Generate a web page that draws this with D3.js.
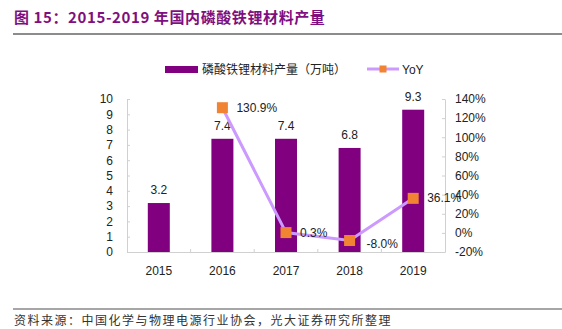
<!DOCTYPE html>
<meta charset="utf-8">
<head>
  <title>2015-2019 年国内磷酸铁锂材料产量</title>
</head>
<body>
<style>
  html, body {
    margin: 0;
    padding: 0;
    background: #fff;
  }
  svg text {
    font-family: "Liberation Sans", Arial, sans-serif;
  }
  .cjk {
    font-family: "Noto Sans CJK SC", sans-serif;
  }
  .axis path, .axis line {
    stroke: #d0d0d0;
  }
</style>
<div id="chart"></div>
<script src="https://cdn.jsdelivr.net/npm/d3@7/dist/d3.min.js"></script>
<script>

var years = ["2015", "2016", "2017", "2018", "2019"],
    output = [3.2, 7.4, 7.4, 6.8, 9.3],
    yoy = [null, 130.9, 0.3, -8.0, 36.1],
    leftTicks = [0, 1, 2, 3, 4, 5, 6, 7, 8, 9, 10],
    rightTicks = [-20, 0, 20, 40, 60, 80, 100, 120, 140];

(function() {

var width = 562, height = 329;

var svg = d3.select("#chart").append("svg")
    .attr("width", width)
    .attr("height", height);

// header
svg.append("text")
    .attr("class", "cjk")
    .attr("x", 14)
    .attr("y", 23)
    .attr("fill", "#7f0f7e")
    .attr("font-size", 15)
    .attr("font-weight", "bold")
    .attr("letter-spacing", 0.6)
    .text("图 15：2015-2019 年国内磷酸铁锂材料产量");

svg.append("line")
    .attr("x1", 13).attr("x2", width)
    .attr("y1", 34).attr("y2", 34)
    .attr("stroke", "#666").attr("stroke-width", 1.5);

// footer
svg.append("line")
    .attr("x1", 13).attr("x2", width)
    .attr("y1", 309).attr("y2", 309)
    .attr("stroke", "#888").attr("stroke-width", 1.5);

svg.append("text")
    .attr("class", "cjk")
    .attr("x", 14)
    .attr("y", 325)
    .attr("fill", "#333")
    .attr("font-size", 12)
    .attr("letter-spacing", 1.5)
    .text("资料来源：中国化学与物理电源行业协会，光大证券研究所整理");

var plotLeft = 127, plotRight = 445, plotTop = 99, plotBottom = 252;

var x = d3.scaleBand().domain(years).range([plotLeft, plotRight]);
var y = d3.scaleLinear().domain([0, 10]).range([plotBottom, plotTop]);
var y2 = d3.scaleLinear().domain([-20, 140]).range([plotBottom, plotTop]);

// axes
svg.append("g")
    .attr("class", "axis")
    .attr("transform", "translate(" + plotLeft + ",0)")
    .call(d3.axisLeft(y).tickValues(leftTicks).tickSize(-3).tickSizeOuter(0).tickPadding(14));

svg.append("g")
    .attr("class", "axis")
    .attr("transform", "translate(" + plotRight + ",0)")
    .call(d3.axisRight(y2).tickValues(rightTicks).tickSize(-3).tickSizeOuter(0)
      .tickPadding(10).tickFormat(function(d) { return d + "%"; }));

var gb = svg.append("g")
    .attr("class", "axis")
    .attr("transform", "translate(0," + plotBottom + ")")
    .call(d3.axisBottom(x).tickSize(0).tickPadding(14));

// small category separators pointing up
gb.selectAll(".sep")
    .data(years.slice(1))
  .enter().append("line")
    .attr("class", "sep")
    .attr("x1", function(d) { return x(d); })
    .attr("x2", function(d) { return x(d); })
    .attr("y1", 0).attr("y2", -3)
    .attr("stroke", "#d0d0d0");

svg.selectAll(".axis text")
    .attr("font-size", 12)
    .attr("fill", "#222");

// bars
var bw = 22;
svg.append("g").selectAll("rect")
    .data(years)
  .enter().append("rect")
    .attr("x", function(d) { return x(d) + x.bandwidth() / 2 - bw / 2; })
    .attr("y", function(d, i) { return y(output[i]); })
    .attr("width", bw)
    .attr("height", function(d, i) { return plotBottom - y(output[i]); })
    .attr("fill", "#800080");

svg.append("g").selectAll("text")
    .data(years)
  .enter().append("text")
    .attr("x", function(d) { return x(d) + x.bandwidth() / 2; })
    .attr("y", function(d, i) { return y(output[i]) - 9; })
    .attr("text-anchor", "middle")
    .attr("font-size", 12)
    .attr("fill", "#222")
    .text(function(d, i) { return output[i].toFixed(1); });

// YoY line
var pts = years.map(function(d, i) { return {year: d, v: yoy[i]}; })
    .filter(function(p) { return p.v !== null; });

var line = d3.line()
    .x(function(p) { return x(p.year) + x.bandwidth() / 2; })
    .y(function(p) { return y2(p.v); });

svg.append("path")
    .datum(pts)
    .attr("d", line)
    .attr("fill", "none")
    .attr("stroke", "#cc99ff")
    .attr("stroke-width", 3);

var ms = 11;
svg.append("g").selectAll("rect")
    .data(pts)
  .enter().append("rect")
    .attr("x", function(p) { return x(p.year) + x.bandwidth() / 2 - ms / 2; })
    .attr("y", function(p) { return y2(p.v) - ms / 2; })
    .attr("width", ms)
    .attr("height", ms)
    .attr("fill", "#f08432");

svg.append("g").selectAll("text")
    .data(pts)
  .enter().append("text")
    .attr("x", function(p) { return x(p.year) + x.bandwidth() / 2 + (p.v < 0 ? 17 : 14); })
    .attr("y", function(p) { return y2(p.v) + (p.v < 0 ? 7 : 4); })
    .attr("font-size", 12)
    .attr("fill", "#222")
    .text(function(p) { return p.v.toFixed(1) + "%"; });

// legend
var lg = svg.append("g");
lg.append("rect")
    .attr("x", 165).attr("y", 66)
    .attr("width", 33).attr("height", 7)
    .attr("fill", "#800080");
lg.append("text")
    .attr("class", "cjk")
    .attr("x", 202).attr("y", 74)
    .attr("font-size", 12)
    .attr("fill", "#222")
    .text("磷酸铁锂材料产量（万吨）");
lg.append("line")
    .attr("x1", 367).attr("x2", 399)
    .attr("y1", 69).attr("y2", 69)
    .attr("stroke", "#cc99ff").attr("stroke-width", 3);
lg.append("rect")
    .attr("x", 379.5).attr("y", 65.5)
    .attr("width", 7).attr("height", 7)
    .attr("fill", "#f08432");
lg.append("text")
    .attr("x", 402).attr("y", 74)
    .attr("font-size", 12)
    .attr("fill", "#222")
    .text("YoY");

})();

</script>
</body>
